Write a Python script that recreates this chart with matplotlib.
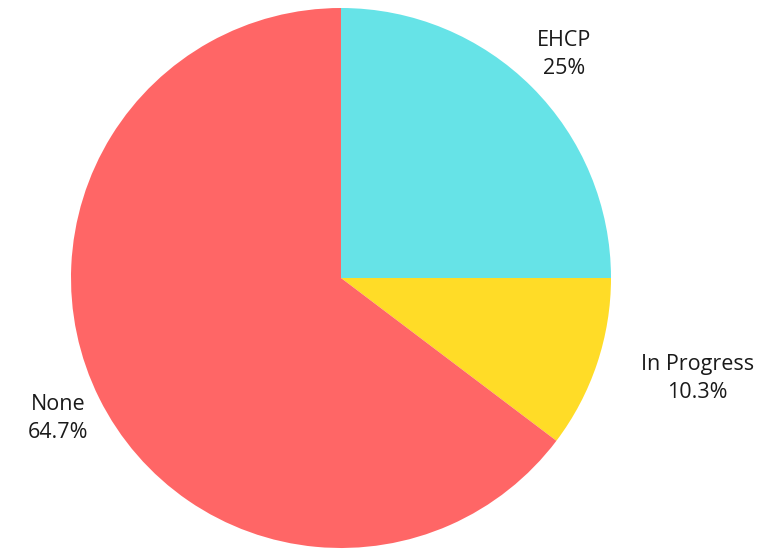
import numpy as np
import matplotlib.pyplot as plt

labels = ["EHCP", "In Progress", "None"]
values = [25, 10.3, 64.7]
value_text = ["25%", "10.3%", "64.7%"]
colors = ["#66E3E7", "#FFDC27", "#FF6666"]

# label placement: distance from centre (in radii) and horizontal anchor
label_dist = [1.17, 1.17, 1.17]
label_ha = ["center", "left", "center"]

plt.rcParams["font.family"] = ["Open Sans", "DejaVu Sans"]

fig = plt.figure(figsize=(7.77, 5.5), dpi=100)
ax = fig.add_axes([71 / 777, 2 / 550, 540 / 777, 540 / 550])

wedges, _ = ax.pie(values, colors=colors, startangle=90, counterclock=False,
                   radius=1, wedgeprops=dict(linewidth=0))
ax.set_xlim(-1, 1)
ax.set_ylim(-1, 1)
ax.set_aspect("equal")
ax.axis("off")

for w, lab, txt, d, ha in zip(wedges, labels, value_text, label_dist, label_ha):
    ang = np.deg2rad((w.theta1 + w.theta2) / 2)
    ax.text(d * np.cos(ang), d * np.sin(ang), f"{lab}\n{txt}", ha=ha, va="center",
            multialignment="center", fontsize=15.5, color="#1a1a1a",
            linespacing=1.45, clip_on=False)

fig.savefig("out.png", dpi=100)
